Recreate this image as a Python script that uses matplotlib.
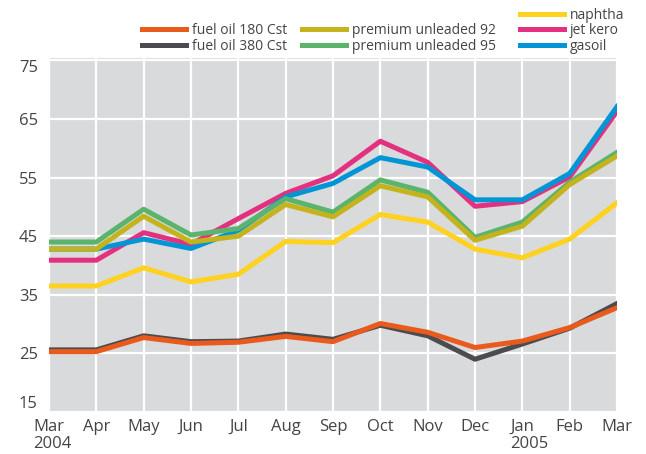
#!/usr/bin/env python
# -*- coding: utf-8 -*-
"""Oil product prices, Mar 2004 - Mar 2005"""

import numpy as np
import matplotlib as mpl
mpl.use("Agg")
import matplotlib.pyplot as plt
from matplotlib.transforms import offset_copy

# data
months = ["Mar", "Apr", "May", "Jun", "Jul", "Aug", "Sep",
          "Oct", "Nov", "Dec", "Jan", "Feb", "Mar"]
years = {0: "2004", 10: "2005"}
fuel_180 = [25.3, 25.3, 27.7, 26.7, 26.9, 27.9, 27.0, 30.1, 28.6, 26.0, 27.1, 29.4, 32.8]
fuel_380 = [25.6, 25.6, 28.0, 27.0, 27.1, 28.3, 27.4, 29.8, 28.0, 24.0, 26.6, 29.3, 33.5]
naphtha = [36.5, 36.5, 39.6, 37.2, 38.5, 44.1, 43.9, 48.7, 47.4, 42.8, 41.3, 44.5, 50.7]
prem_92 = [42.8, 42.8, 48.4, 44.0, 45.0, 50.4, 48.3, 53.6, 51.7, 44.3, 46.7, 53.8, 58.7]
prem_95 = [44.0, 44.0, 49.6, 45.2, 46.3, 51.4, 49.1, 54.6, 52.5, 44.8, 47.4, 54.2, 59.3]
jet_kero = [40.9, 40.9, 45.6, 43.6, 48.0, 52.3, 55.3, 61.2, 57.6, 50.1, 50.9, 55.1, 66.3]
gasoil = [42.8, 42.8, 44.5, 42.9, 46.0, 51.7, 54.0, 58.4, 56.8, 51.2, 51.2, 55.7, 67.1]
yticks = [15, 25, 35, 45, 55, 65, 75]

# styles
C_180 = "#ea5a1c"
C_380 = "#4b4b50"
C_NAP = "#ffd21f"
C_92 = "#c5b31d"
C_95 = "#5bb46c"
C_JET = "#e4317f"
C_GAS = "#0096d6"
LW = 3.6
TXT = "#444444"

plt.rcParams['font.family'] = ['Open Sans', 'DejaVu Sans']

fig = plt.figure(figsize=(6.46, 4.54), dpi=100)
ax = fig.add_axes([49 / 646., 1 - 412 / 454., 568 / 646., 354 / 454.])
ax.set_facecolor("#d9dadc")

x = np.arange(len(months))
l_nap, = ax.plot(x, naphtha, color=C_NAP, lw=LW, label="naphtha")
l_jet, = ax.plot(x, jet_kero, color=C_JET, lw=LW, label="jet kero")
l_gas, = ax.plot(x, gasoil, color=C_GAS, lw=LW, label="gasoil")
l_95, = ax.plot(x, prem_95, color=C_95, lw=LW, label="premium unleaded 95")
l_92, = ax.plot(x, prem_92, color=C_92, lw=LW, label="premium unleaded 92")
l_380, = ax.plot(x, fuel_380, color=C_380, lw=LW, label="fuel oil 380 Cst")
l_180, = ax.plot(x, fuel_180, color=C_180, lw=LW, label="fuel oil 180 Cst")

ax.set_xlim(0, 12)
ax.set_ylim(15, 75.4)
ax.set_xticks(x)
ax.set_xticklabels(months)
ax.set_yticks(yticks)
ax.set_yticklabels([str(v) for v in yticks])
ax.grid(True, color="white", lw=1.6)
ax.set_axisbelow(True)
for s in ax.spines.values():
    s.set_visible(False)
ax.tick_params(length=0, labelsize=12, labelcolor=TXT)
ax.tick_params(axis="y", pad=8)
ax.tick_params(axis="x", pad=5)
ylabels = ax.get_yticklabels()
ylabels[-1].set_va("top")
ylabels[0].set_va("bottom")

# year labels, left-aligned under their month label
fig.canvas.draw()
renderer = fig.canvas.get_renderer()
inv = fig.transFigure.inverted()
xlabels = ax.get_xticklabels()
for i, yr in years.items():
    bb = xlabels[i].get_window_extent(renderer)
    x0, y0 = inv.transform((bb.x0, bb.y0))
    fig.text(x0, y0 - 1 / 454., yr, ha="left", va="top", fontsize=12, color=TXT)

# legends: three columns above the plot
common = dict(frameon=False, fontsize=10, labelcolor=TXT, borderpad=0,
              borderaxespad=0, handlelength=3.2, handletextpad=0.4,
              labelspacing=0.05, loc="lower left")
fig.legend([l_180, l_380], ["fuel oil 180 Cst", "fuel oil 380 Cst"],
           bbox_to_anchor=(142 / 646., 1 - 54 / 454.), **common)
fig.legend([l_92, l_95], ["premium unleaded 92", "premium unleaded 95"],
           bbox_to_anchor=(302 / 646., 1 - 54 / 454.), **common)
fig.legend([l_nap, l_jet, l_gas], ["naphtha", "jet kero", "gasoil"],
           bbox_to_anchor=(520 / 646., 1 - 54 / 454.), **common)

fig.savefig("out.png", dpi=100)
